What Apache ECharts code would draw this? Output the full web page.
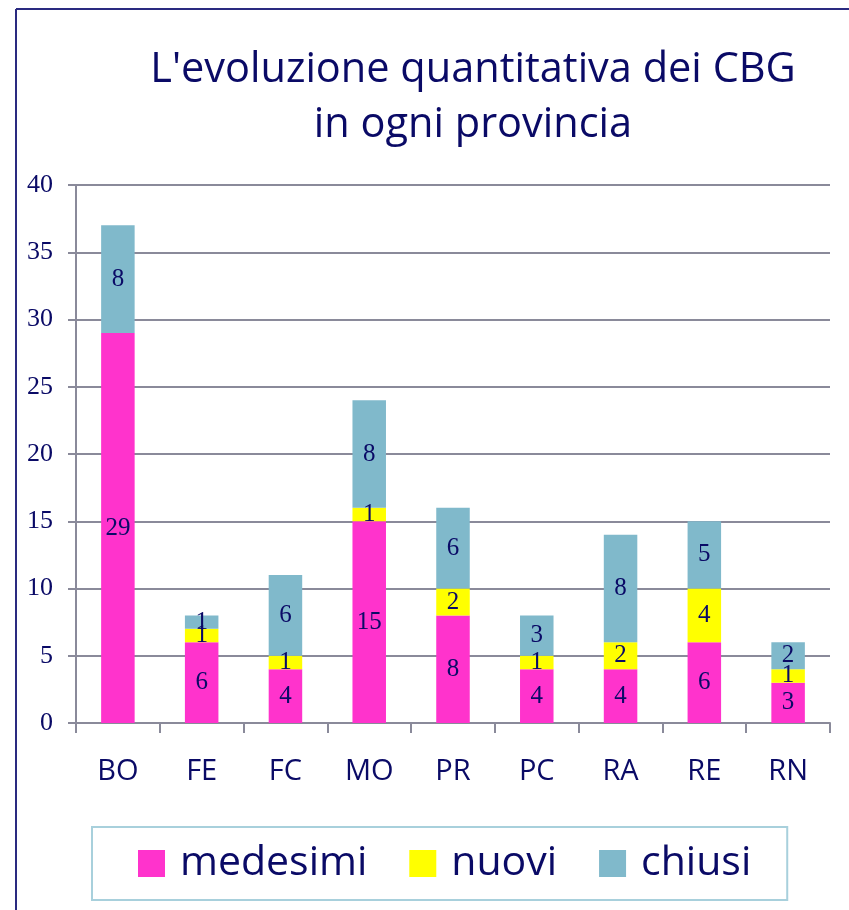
<!DOCTYPE html>
<html><head><meta charset="utf-8">
<script src="https://cdn.jsdelivr.net/npm/echarts@6/dist/echarts.min.js"></script>
<style>html,body{margin:0;padding:0;background:#fff}#c{width:849px;height:910px}</style>
</head><body><div id="c"></div>
<script>
const categories = ['BO','FE','FC','MO','PR','PC','RA','RE','RN'];
const medesimi = [29,6,4,15,8,4,4,6,3];
const nuovi = [0,1,1,1,2,1,2,4,1];
const chiusi = [8,1,6,8,6,3,8,5,2];
const yTicks = [0,5,10,15,20,25,30,35,40];

const navy = '#0a0a66';
const lbl = {show:true, position:'inside', color:navy, fontFamily:'Liberation Serif', fontSize:25,
  formatter: p => p.value ? String(p.value) : ''};
function s(name, data, color){
  return {name, type:'bar', stack:'t', data, barWidth:'40%', itemStyle:{color}, label:lbl, emphasis:{disabled:true}};
}
const chart = echarts.init(document.getElementById('c'), null, {renderer:'canvas'});
chart.setOption({
  animation:false,
  title:{text:"L'evoluzione quantitativa dei CBG\nin ogni provincia", left:468, top:38, textAlign:'center',
    textStyle:{color:navy, fontFamily:'Open Sans', fontWeight:'normal', fontSize:41.5, lineHeight:55}},
  grid:{left:76, right:19, top:185, bottom:187},
  xAxis:{type:'category', data:categories,
    axisLine:{lineStyle:{color:'#8a8a9a', width:2}},
    axisTick:{show:true, length:10, lineStyle:{color:'#8a8a9a', width:2}},
    axisLabel:{color:navy, fontFamily:'Open Sans', fontSize:29, margin:34}},
  yAxis:{type:'value', min:0, max:40, interval:5,
    axisLine:{show:true, lineStyle:{color:'#8a8a9a', width:2}},
    axisTick:{show:true, inside:false, length:8, lineStyle:{color:'#8a8a9a', width:2}},
    splitLine:{lineStyle:{color:'#8a8a9a', width:2}},
    axisLabel:{color:navy, fontFamily:'Liberation Serif', fontSize:26, margin:23,
      formatter: v => yTicks.includes(v) ? String(v) : ''}},
  legend:{left:92, top:827, width:695, height:62, itemWidth:27, itemHeight:27, itemGap:42,
    padding:[16,36,16,46], borderColor:'#a8d0dc', borderWidth:2,
    textStyle:{color:navy, fontFamily:'Open Sans', fontSize:41, padding:[0,0,0,10]}, icon:'rect',
    data:['medesimi','nuovi','chiusi']},
  graphic:[
    {type:'line', shape:{x1:16, y1:9, x2:16, y2:910}, style:{stroke:'#2a2a80', lineWidth:2}},
    {type:'line', shape:{x1:16, y1:9, x2:849, y2:9}, style:{stroke:'#2a2a80', lineWidth:2}}
  ],
  series:[s('medesimi', medesimi, '#ff33cc'), s('nuovi', nuovi, '#ffff00'), s('chiusi', chiusi, '#80b9cb')]
});
</script></body></html>
